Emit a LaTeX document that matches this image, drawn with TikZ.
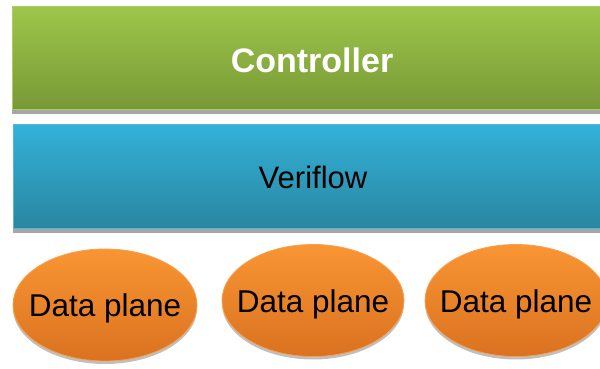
\documentclass[tikz,border=0pt]{standalone}
\usepackage{fontspec}
\setmainfont{Liberation Sans}
\usetikzlibrary{shapes.geometric,shadows}
\definecolor{grnTop}{HTML}{9DC64A}
\definecolor{grnBot}{HTML}{789836}
\definecolor{grnEdge}{HTML}{A9CF5E}
\definecolor{bluTop}{HTML}{33B1D8}
\definecolor{bluBot}{HTML}{2986A0}
\definecolor{bluEdge}{HTML}{4DB9DC}
\definecolor{orgTop}{HTML}{F99533}
\definecolor{orgBot}{HTML}{DA7220}
\definecolor{orgEdge}{HTML}{F7A050}
\tikzset{
  layerbar/.style={rectangle, inner sep=0pt, line width=1pt,
    drop shadow={shadow xshift=0pt, shadow yshift=-4pt, opacity=0.35, fill=black}},
  planeblob/.style={ellipse, inner sep=0pt, line width=0.8pt, draw=orgEdge,
    top color=orgTop, bottom color=orgBot,
    minimum height=112pt, font=\fontsize{31.5}{36}\selectfont,
    drop shadow={shadow xshift=0pt, shadow yshift=-3pt, opacity=0.25, fill=black}}
}
% text whose box has no width, so the ellipse keeps its own size,
% and whose box is set so that the words sit a little low
\newcommand{\flatlabel}[1]{\raisebox{0pt}[31pt][7pt]{\makebox[0pt]{#1}}}
\begin{document}
\begin{tikzpicture}[x=1pt,y=1pt]
  \useasboundingbox (0,0) rectangle (600,369);
  \clip (0,0) rectangle (600,369);
  % control layer
  \node[layerbar, draw=grnEdge, top color=grnTop, bottom color=grnBot,
        minimum width=600pt, minimum height=103pt,
        text=white, font=\fontsize{34}{40}\selectfont\bfseries]
        (ctrl) at (312,310.5) {\raisebox{0pt}[28.5pt][0pt]{Controller}};
  % verification layer
  \node[layerbar, draw=bluEdge, top color=bluTop, bottom color=bluBot,
        minimum width=600pt, minimum height=104pt,
        text=black, font=\fontsize{31}{36}\selectfont]
        (veri) at (313,192) {Veriflow};
  % forwarding devices
  \node[planeblob, minimum width=184pt] (dp1) at (105,64) {\flatlabel{Data plane}};
  \node[planeblob, minimum width=182pt] (dp2) at (313,68.5) {\flatlabel{Data plane}};
  \node[planeblob, minimum width=182pt] (dp3) at (516,68.5) {\flatlabel{Data plane}};
\end{tikzpicture}
\end{document}
